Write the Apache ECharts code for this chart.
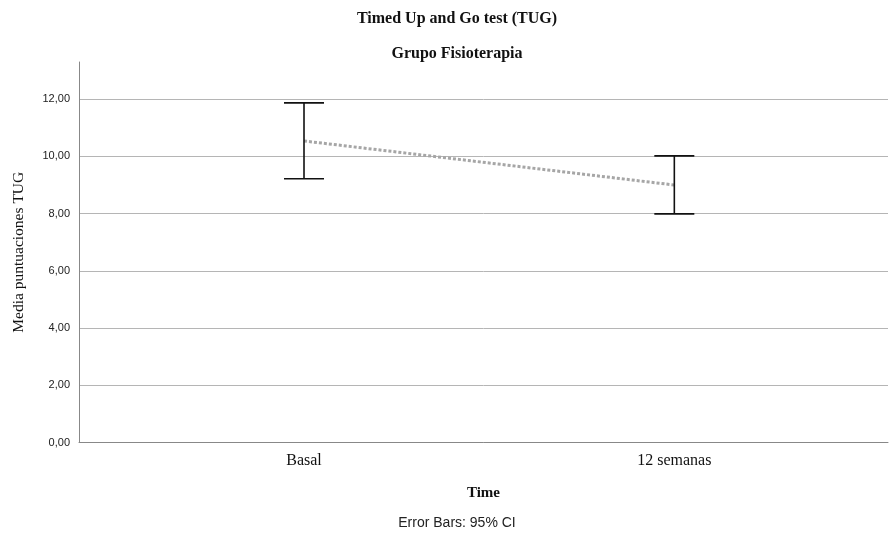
<!DOCTYPE html>
<html>
<head>
<meta charset="utf-8">
<script src="https://cdn.jsdelivr.net/npm/echarts@6/dist/echarts.min.js"></script>
<style>html,body{margin:0;padding:0;background:#fff}#c{width:889px;height:534px}</style>
</head>
<body>
<div id="c"></div>
<script>
const categories = ['Basal', '12 semanas'];
const means = [10.54, 9.00];
const ciLow = [9.22, 7.99];
const ciHigh = [11.87, 10.02];
const yTicks = [0, 2, 4, 6, 8, 10, 12];

const chart = echarts.init(document.getElementById('c'), null, {renderer: 'canvas'});
const catIdx = categories.map((c, i) => i);
const lineData = catIdx.map(i => [i, means[i]]);
const barData = catIdx.map(i => [i, ciLow[i], ciHigh[i]]);

const serif = 'Liberation Serif';
const sans = 'Liberation Sans';

chart.setOption({
  animation: false,
  backgroundColor: '#fff',
  title: [
    {text: 'Timed Up and Go test (TUG)', left: 452, top: 6, textAlign: 'center',
     textStyle: {fontFamily: serif, fontWeight: 'bold', fontSize: 16, color: '#111'}},
    {text: 'Grupo Fisioterapia', left: 452, top: 41, textAlign: 'center',
     textStyle: {fontFamily: serif, fontWeight: 'bold', fontSize: 16, color: '#111'}},
    {text: 'Error Bars: 95% CI', left: 452, top: 511, textAlign: 'center',
     textStyle: {fontFamily: sans, fontWeight: 'normal', fontSize: 14, color: '#222'}}
  ],
  grid: {left: 79, right: 1, top: 62, bottom: 91.5, containLabel: false},
  xAxis: {
    type: 'value', min: -0.6076, max: 1.577,
    axisLine: {show: true, onZero: false, lineStyle: {color: '#888', width: 1}},
    axisTick: {show: false},
    splitLine: {show: false},
    axisLabel: {
      customValues: catIdx,
      formatter: v => categories[Math.round(v)] || '',
      fontFamily: serif, fontSize: 16, color: '#111', margin: 10
    },
    name: 'Time', nameLocation: 'middle', nameGap: 43,
    nameTextStyle: {fontFamily: serif, fontWeight: 'bold', fontSize: 15, color: '#111'}
  },
  yAxis: {
    type: 'value', min: 0, max: 13.3, interval: 2,
    axisLine: {show: true, onZero: false, lineStyle: {color: '#888', width: 1}},
    axisTick: {show: false},
    splitLine: {show: true, showMaxLine: false, lineStyle: {color: '#b5b5b5', width: 1}},
    axisLabel: {
      showMaxLabel: false,
      formatter: v => v.toFixed(2).replace('.', ','),
      fontFamily: sans, fontSize: 11, color: '#222', margin: 9
    },
    name: 'Media puntuaciones TUG', nameLocation: 'middle', nameGap: 52, nameRotate: 90,
    nameTextStyle: {fontFamily: serif, fontSize: 15.5, color: '#111'}
  },
  series: [
    {
      type: 'line', data: lineData, symbol: 'none', silent: true,
      lineStyle: {color: '#a6a6a6', width: 3, type: [3, 2]}, z: 2
    },
    {
      type: 'custom', data: barData, z: 3, silent: true,
      renderItem: function (params, api) {
        const x = api.value(0);
        const lo = api.coord([x, api.value(1)]);
        const hi = api.coord([x, api.value(2)]);
        const half = 20;
        const st = {stroke: '#111', lineWidth: 1.6};
        return {
          type: 'group',
          children: [
            {type: 'line', shape: {x1: lo[0], y1: lo[1], x2: hi[0], y2: hi[1]}, style: st},
            {type: 'line', shape: {x1: hi[0] - half, y1: hi[1], x2: hi[0] + half, y2: hi[1]}, style: st},
            {type: 'line', shape: {x1: lo[0] - half, y1: lo[1], x2: lo[0] + half, y2: lo[1]}, style: st}
          ]
        };
      }
    }
  ]
});
</script>
</body>
</html>
